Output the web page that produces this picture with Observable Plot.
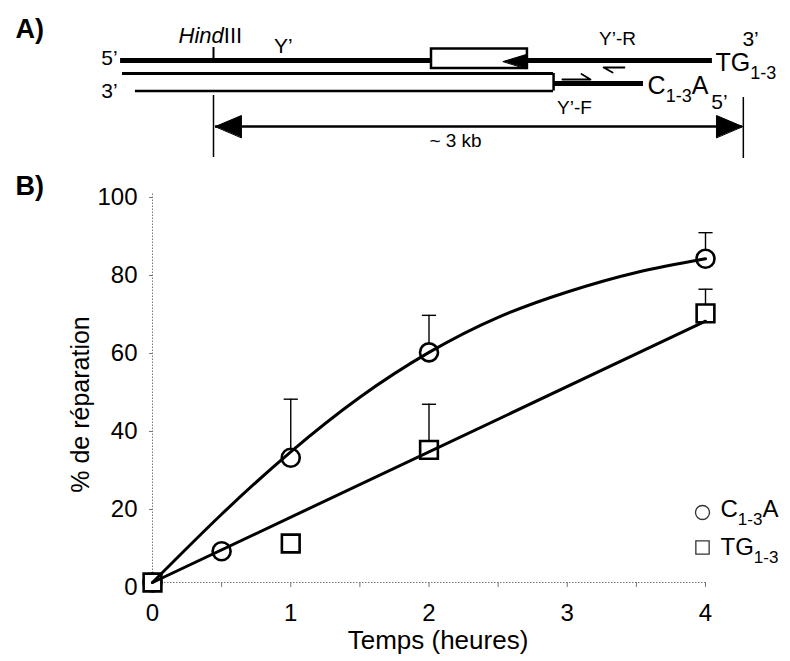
<!DOCTYPE html>
<html><head><meta charset="utf-8">
<script src="https://cdn.jsdelivr.net/npm/d3@7"></script>
<script src="https://cdn.jsdelivr.net/npm/@observablehq/plot@0.6"></script>
<style>
body{margin:0;background:#fff;}
#wrap{width:790px;height:661px;}
svg{display:block}
</style></head><body>
<div id="wrap"><div id="a"></div><div id="b"></div></div>
<script>
// ---------- Panel B data ----------
const hoursC = [0, 0.5, 1, 2, 4];
const repairC = [0, 8, 32, 59, 83];
const errC = [0, 0, 15, 9.5, 6.7];
const hoursTG = [0, 1, 2, 4];
const repairTG = [0, 10, 34, 69];
const errTG = [0, 0, 11.7, 6.2];
const fitHoursC = [0, 0.5, 1, 1.5, 2, 2.5, 3, 3.5, 4];
const fitC = [0, 17.5, 33.5, 47.5, 59, 68, 74.5, 79.5, 83];
const fitHoursTG = [0, 4];
const fitTG = [0, 67];
const yTicks = [0, 20, 40, 60, 80, 100];
const xTicks = [0, 0.5, 1, 1.5, 2, 2.5, 3, 3.5, 4];
const seriesNames = ["C_{1-3}A", "TG_{1-3}"];
const yLabel = "% de réparation";
const xLabel = "Temps (heures)";

// ---------- Panel A schematic (x in kb from the HindIII site, y = track level) ----------
const strandX1 = [-0.526, -0.515, -0.442, 1.925];
const strandX2 = [2.824, 1.925, 1.925, 2.434];
const strandY = [60, 73, 90.5, 83];
const boxX1 = [1.234], boxX2 = [1.777], boxY1 = [48.5], boxY2 = [68];
const lowerBoxEdgeX = [1.925], lowerBoxEdgeY1 = [73], lowerBoxEdgeY2 = [90.5];
const markerX = [0, 0, 2.999], markerY1 = [47, 95, 97], markerY2 = [60, 157, 158];
const spanX1 = [0.011], spanX2 = [2.994], spanY = [126];
const headIds = ["L","L","L","R","R","R","Y","Y","Y"];
const headX = [0.011, 0.158, 0.158, 2.994, 2.847, 2.847, 1.64, 1.77, 1.77];
const headY = [126, 115, 137, 126, 115, 137, 61, 54, 68];
const primerIds = ["R","R","R","F","F","F"];
const primerX = [2.326, 2.208, 2.259, 1.975, 2.134, 2.083];
const primerY = [67, 67, 72, 79, 79, 73.5];
const labelText = ["A)", "5’", "3’", "*Hind*III", "Y’", "Y’-R", "3’", "TG_{1-3}", "C_{1-3}A", "5’", "Y’-F", "~ 3 kb"];
const labelX = [-1.121, -0.543, -0.543, -0.198, 0.396, 2.287, 3.04, 2.841, 2.457, 2.864, 2.043, 1.37];
const labelY = [18, 57.5, 90.5, 35, 46, 38.5, 38.5, 62, 85, 102, 107, 140];

const FONT = "'Liberation Sans', Arial, Helvetica, sans-serif";

// ---------- Panel A ----------
const strands = strandX1.map((x1, i) => ({x1, x2: strandX2[i], y: strandY[i]}));
const boxes = boxX1.map((x1, i) => ({x1, x2: boxX2[i], y1: boxY1[i], y2: boxY2[i]}));
const markers = markerX.map((x, i) => ({x, y1: markerY1[i], y2: markerY2[i]}));
const heads = headX.map((x, i) => ({id: headIds[i], x, y: headY[i]}));
const primers = primerX.map((x, i) => ({id: primerIds[i], x, y: primerY[i]}));
const labels = labelText.map((t, i) => ({t, x: labelX[i], y: labelY[i]}));
const L = (idx) => labels.filter((d, i) => idx.includes(i));

const plotA = Plot.plot({
  width: 790, height: 170, margin: 0,
  x: {domain: [0, 3], range: [213, 743], axis: null},
  y: {domain: [0, 170], range: [0, 170], axis: null},
  style: {fontFamily: FONT, background: "white", overflow: "visible"},
  marks: [
    Plot.ruleY([strands[0]], {y: "y", x1: "x1", x2: "x2", stroke: "black", strokeWidth: 5}),
    Plot.ruleY([strands[1]], {y: "y", x1: "x1", x2: "x2", stroke: "black", strokeWidth: 3}),
    Plot.ruleY([strands[2]], {y: "y", x1: "x1", x2: "x2", stroke: "black", strokeWidth: 2.5}),
    Plot.ruleY([strands[3]], {y: "y", x1: "x1", x2: "x2", stroke: "black", strokeWidth: 5}),
    Plot.ruleX(lowerBoxEdgeX.map((x, i) => ({x, y1: lowerBoxEdgeY1[i], y2: lowerBoxEdgeY2[i]})), {x: "x", y1: "y1", y2: "y2", stroke: "black", strokeWidth: 2.5}),
    Plot.rect(boxes, {x1: "x1", x2: "x2", y1: "y1", y2: "y2", fill: "white", stroke: "black", strokeWidth: 2.5}),
    Plot.ruleX([markers[0]], {x: "x", y1: "y1", y2: "y2", stroke: "black", strokeWidth: 2}),
    Plot.ruleX(markers.slice(1), {x: "x", y1: "y1", y2: "y2", stroke: "black", strokeWidth: 1.5}),
    Plot.ruleY(spanX1.map((x1, i) => ({x1, x2: spanX2[i], y: spanY[i]})), {y: "y", x1: "x1", x2: "x2", stroke: "black", strokeWidth: 2.5}),
    Plot.line(heads, {x: "x", y: "y", z: "id", fill: "black", stroke: "black", strokeWidth: 1, curve: "linear-closed"}),
    Plot.line(primers, {x: "x", y: "y", z: "id", stroke: "black", strokeWidth: 1.8}),
    Plot.text(L([0]), {x: "x", y: "y", text: "t", textAnchor: "start", lineAnchor: "top", fontSize: 27, fontWeight: "bold"}),
    Plot.text(L([1, 2]), {x: "x", y: "y", text: "t", textAnchor: "end", fontSize: 21}),
    Plot.text(L([3]), {x: "x", y: "y", text: "t", textAnchor: "start", fontSize: 22}),
    Plot.text(L([4, 6, 9]), {x: "x", y: "y", text: "t", fontSize: 21}),
    Plot.text(L([5, 10]), {x: "x", y: "y", text: "t", fontSize: 19}),
    Plot.text(L([7, 8]), {x: "x", y: "y", text: "t", textAnchor: "start", fontSize: 25}),
    Plot.text(L([11]), {x: "x", y: "y", text: "t", fontSize: 19})
  ]
});

// ---------- Panel B ----------
const dataC = hoursC.map((h, i) => ({h, v: repairC[i], e: errC[i]}));
const dataTG = hoursTG.map((h, i) => ({h, v: repairTG[i], e: errTG[i]}));
const errs = [...dataC, ...dataTG].filter(d => d.e > 0).map(d => ({h: d.h, v: d.v, top: d.v + d.e}));
const curveC = fitHoursC.map((h, i) => ({h, v: fitC[i]}));
const curveTG = fitHoursTG.map((h, i) => ({h, v: fitTG[i]}));
const capSymbol = {draw(ctx, size) { const w = Math.sqrt(size); ctx.moveTo(-w, 0); ctx.lineTo(w, 0); }};

const plotB = Plot.plot({
  width: 790, height: 491,
  marginTop: 22, marginBottom: 79, marginLeft: 152, marginRight: 85,
  x: {domain: [0, 4]},
  y: {domain: [0, 100]},
  style: {fontFamily: FONT, background: "white", overflow: "visible", color: "black"},
  marks: [
    Plot.ruleX([0], {y1: 0, y2: 100, stroke: "#777", strokeWidth: 1, strokeDasharray: "1.5,1.5"}),
    Plot.ruleY([0], {x1: 0, x2: 4, stroke: "#777", strokeWidth: 1, strokeDasharray: "1.5,1.5"}),
    Plot.axisY({ticks: yTicks, tickSize: 3, tickPadding: 12, fontSize: 24, dy: 5, stroke: "#777", label: null}),
    Plot.axisX({ticks: xTicks, tickSize: 5, tickPadding: 16, fontSize: 24, stroke: "#777", label: null,
      tickFormat: d => Number.isInteger(d) ? String(d) : ""}),
    Plot.ruleX(errs, {x: "h", y1: "v", y2: "top", stroke: "black", strokeWidth: 1.4}),
    Plot.dot(errs, {x: "h", y: "top", symbol: capSymbol, r: 4, fill: "none", stroke: "black", strokeWidth: 1.4}),
    Plot.dot(dataC, {x: "h", y: "v", r: 9, fill: "white", stroke: "black", strokeWidth: 2.6}),
    Plot.dot(dataTG, {x: "h", y: "v", symbol: "square", r: 10, fill: "white", stroke: "black", strokeWidth: 2.6}),
    Plot.line(curveC, {x: "h", y: "v", curve: "natural", stroke: "black", strokeWidth: 3}),
    Plot.line(curveTG, {x: "h", y: "v", stroke: "black", strokeWidth: 3}),
    // legend
    Plot.dot([seriesNames[0]], {frameAnchor: "bottom-right", dx: -3, dy: -70, r: 7, fill: "white", stroke: "#333", strokeWidth: 1.3}),
    Plot.dot([seriesNames[1]], {frameAnchor: "bottom-right", dx: -3, dy: -35, r: 7.5, symbol: "square", fill: "white", stroke: "#333", strokeWidth: 1.3}),
    Plot.text([seriesNames[0]], {frameAnchor: "bottom-right", dx: 15, dy: -73, text: d => d, textAnchor: "start", lineAnchor: "middle", fontSize: 24}),
    Plot.text([seriesNames[1]], {frameAnchor: "bottom-right", dx: 15, dy: -35, text: d => d, textAnchor: "start", lineAnchor: "middle", fontSize: 24}),
    // axis titles and panel letter
    Plot.text([yLabel], {frameAnchor: "left", dx: -72, dy: 17, rotate: -90, text: d => d, textAnchor: "middle", lineAnchor: "middle", fontSize: 25}),
    Plot.text([xLabel], {frameAnchor: "bottom", dx: 9, dy: 58, text: d => d, textAnchor: "middle", lineAnchor: "middle", fontSize: 26}),
    Plot.text(["B)"], {frameAnchor: "top-left", dx: -137, dy: -17, text: d => d, textAnchor: "start", lineAnchor: "top", fontSize: 27, fontWeight: "bold"})
  ]
});

document.getElementById("a").appendChild(plotA);
document.getElementById("b").appendChild(plotB);

// rich text: _{...} subscript, *...* italic
function rich(root) {
  const NS = "http://www.w3.org/2000/svg";
  root.querySelectorAll("text").forEach(t => {
    const s = t.textContent;
    if (!/_\{|\*/.test(s)) return;
    const fs = parseFloat(getComputedStyle(t).fontSize) || 20;
    const subSize = Math.round(fs * 0.72);
    const shift = fs * 0.32;
    while (t.firstChild) t.removeChild(t.firstChild);
    const re = /_\{([^}]*)\}|\*([^*]*)\*|([^_*]+)/g;
    let m, down = 0;
    while ((m = re.exec(s))) {
      const ts = document.createElementNS(NS, "tspan");
      if (m[1] !== undefined) {
        ts.textContent = m[1];
        ts.setAttribute("font-size", subSize);
        ts.setAttribute("dy", shift - down);
        down = shift;
      } else {
        ts.textContent = m[2] !== undefined ? m[2] : m[3];
        if (m[2] !== undefined) ts.setAttribute("font-style", "italic");
        if (down) { ts.setAttribute("dy", -down); down = 0; }
      }
      t.appendChild(ts);
    }
  });
}
rich(plotA);
rich(plotB);
</script>
</body></html>
